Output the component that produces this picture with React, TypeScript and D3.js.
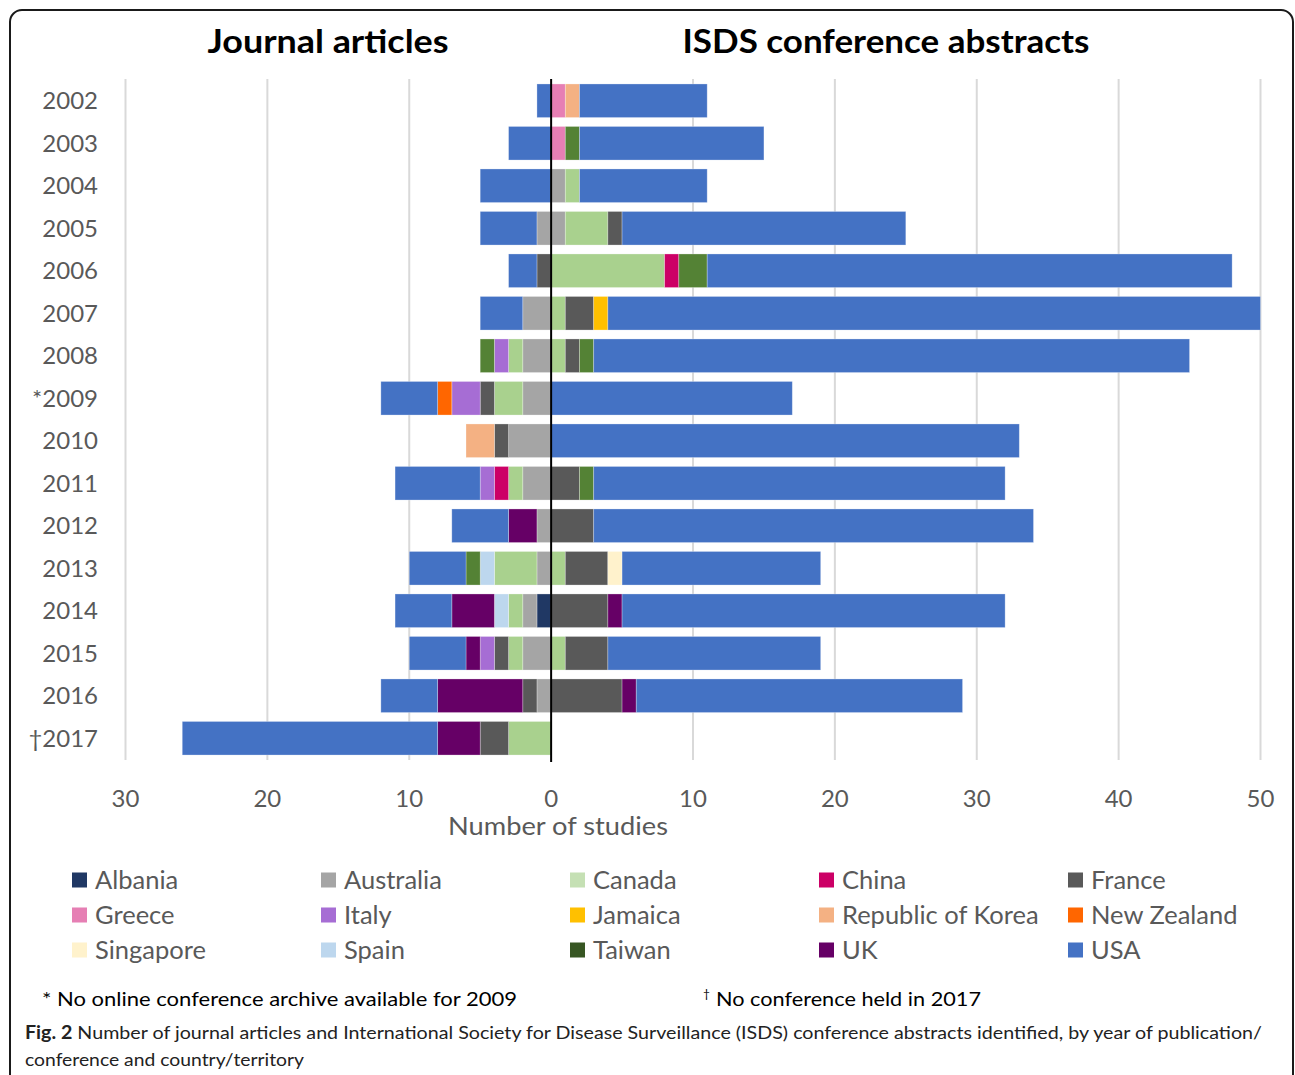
import React from 'react';
import * as d3 from 'd3';

const years = ['2002','2003','2004','2005','2006','2007','2008','2009','2010','2011','2012','2013','2014','2015','2016','2017'];
const yearLabels = ['2002','2003','2004','2005','2006','2007','2008','*2009','2010','2011','2012','2013','2014','2015','2016','\u20202017'];

const countries = ['Albania','Australia','Canada','China','France','Greece','Italy','Jamaica','Republic of Korea','New Zealand','Singapore','Spain','Taiwan','UK','USA'];

// Journal articles (drawn to the left), per country, 2002..2017
const jAlbania   = [0,0,0,0,0,0,0,0,0,0,0,0,1,0,0,0];
const jAustralia = [0,0,0,1,0,2,2,2,3,2,1,1,1,2,1,0];
const jCanada    = [0,0,0,0,0,0,1,2,0,1,0,3,1,1,0,3];
const jChina     = [0,0,0,0,0,0,0,0,0,1,0,0,0,0,0,0];
const jFrance    = [0,0,0,0,1,0,0,1,1,0,0,0,0,1,1,2];
const jGreece    = [0,0,0,0,0,0,0,0,0,0,0,0,0,0,0,0];
const jItaly     = [0,0,0,0,0,0,1,2,0,1,0,0,0,1,0,0];
const jJamaica   = [0,0,0,0,0,0,0,0,0,0,0,0,0,0,0,0];
const jKorea     = [0,0,0,0,0,0,0,0,2,0,0,0,0,0,0,0];
const jNZ        = [0,0,0,0,0,0,0,1,0,0,0,0,0,0,0,0];
const jSingapore = [0,0,0,0,0,0,0,0,0,0,0,0,0,0,0,0];
const jSpain     = [0,0,0,0,0,0,0,0,0,0,0,1,1,0,0,0];
const jTaiwan    = [0,0,0,0,0,0,1,0,0,0,0,1,0,0,0,0];
const jUK        = [0,0,0,0,0,0,0,0,0,0,2,0,3,1,6,3];
const jUSA       = [1,3,5,4,2,3,0,4,0,6,4,4,4,4,4,18];

// ISDS conference abstracts (drawn to the right)
const cAlbania   = [0,0,0,0,0,0,0,0,0,0,0,0,0,0,0,0];
const cAustralia = [0,0,1,1,0,0,0,0,0,0,0,0,0,0,0,0];
const cCanada    = [0,0,1,3,8,1,1,0,0,0,0,1,0,1,0,0];
const cChina     = [0,0,0,0,1,0,0,0,0,0,0,0,0,0,0,0];
const cFrance    = [0,0,0,1,0,2,1,0,0,2,3,3,4,3,5,0];
const cGreece    = [1,1,0,0,0,0,0,0,0,0,0,0,0,0,0,0];
const cItaly     = [0,0,0,0,0,0,0,0,0,0,0,0,0,0,0,0];
const cJamaica   = [0,0,0,0,0,1,0,0,0,0,0,0,0,0,0,0];
const cKorea     = [1,0,0,0,0,0,0,0,0,0,0,0,0,0,0,0];
const cNZ        = [0,0,0,0,0,0,0,0,0,0,0,0,0,0,0,0];
const cSingapore = [0,0,0,0,0,0,0,0,0,0,0,1,0,0,0,0];
const cSpain     = [0,0,0,0,0,0,0,0,0,0,0,0,0,0,0,0];
const cTaiwan    = [0,1,0,0,2,0,1,0,0,1,0,0,0,0,0,0];
const cUK        = [0,0,0,0,0,0,0,0,0,0,0,0,1,0,1,0];
const cUSA       = [9,13,9,20,37,46,42,17,33,29,31,14,27,15,23,0];

const xTicks = [-30,-20,-10,0,10,20,30,40,50];

const journal = [jAlbania,jAustralia,jCanada,jChina,jFrance,jGreece,jItaly,jJamaica,jKorea,jNZ,jSingapore,jSpain,jTaiwan,jUK,jUSA];
const conference = [cAlbania,cAustralia,cCanada,cChina,cFrance,cGreece,cItaly,cJamaica,cKorea,cNZ,cSingapore,cSpain,cTaiwan,cUK,cUSA];

const barColors = ['#203864','#A5A5A5','#A9D18E','#CC0066','#595959','#E67FB4','#A66DD4','#FFC000','#F4B183','#FF6600','#FFF2CC','#BDD7EE','#548235','#660066','#4472C4'];
const legendColors = ['#203864','#A5A5A5','#C5E0B4','#CC0066','#595959','#E67FB4','#A66DD4','#FFC000','#F4B183','#FF6600','#FFF2CC','#BDD7EE','#375623','#660066','#4472C4'];

const FONT = 'Lato, "Open Sans", sans-serif';

export default function App() {
  const W = 1295, H = 1075;
  const x = d3.scaleLinear().domain([-30, 50]).range([125.5, 1260.5]);
  const y = d3.scaleBand().domain(years).range([79.5, 759.5]).paddingInner(0.21).paddingOuter(0.105);

  const segs: { key: string; x0: number; x1: number; y: number; h: number; color: string }[] = [];
  years.forEach((yr, i) => {
    let accL = 0, accR = 0;
    countries.forEach((c, k) => {
      const jv = journal[k][i];
      if (jv > 0) {
        segs.push({ key: `j-${yr}-${c}`, x0: x(-(accL + jv)), x1: x(-accL), y: y(yr)!, h: y.bandwidth(), color: barColors[k] });
        accL += jv;
      }
      const cv = conference[k][i];
      if (cv > 0) {
        segs.push({ key: `c-${yr}-${c}`, x0: x(accR), x1: x(accR + cv), y: y(yr)!, h: y.bandwidth(), color: barColors[k] });
        accR += cv;
      }
    });
  });

  const [top, bottom] = [79, 760];
  const legendCols = [72, 321, 570, 819, 1068];
  const legendRows = [880, 915, 950];

  return (
    <svg width={W} height={H} style={{ position: 'absolute', left: 0, top: 0, background: '#fff' }} fontFamily={FONT}>
      <rect x={10} y={10} width={1283} height={1100} rx={12} ry={12} fill="#fff" stroke="#1a1a1a" strokeWidth={2} />

      <text x={328} y={53} textAnchor="middle" fontSize={33} fontWeight="bold" fill="#000" textLength={241} lengthAdjust="spacingAndGlyphs">Journal articles</text>
      <text x={886} y={53} textAnchor="middle" fontSize={33} fontWeight="bold" fill="#000" textLength={407} lengthAdjust="spacingAndGlyphs">ISDS conference abstracts</text>

      {xTicks.filter(t => t !== 0).map(t => (
        <line key={`g${t}`} x1={x(t)} x2={x(t)} y1={top} y2={bottom} stroke="#d9d9d9" strokeWidth={2} />
      ))}

      {segs.map(s => (
        <rect key={s.key} x={s.x0} y={s.y} width={s.x1 - s.x0} height={s.h} fill={s.color} stroke="#ffffff" strokeOpacity={0.35} strokeWidth={0.8} />
      ))}

      <line x1={x(0)} x2={x(0)} y1={top} y2={bottom + 2} stroke="#000" strokeWidth={2} />

      {years.map((yr, i) => (
        <text key={`yl${yr}`} x={98} y={y(yr)! + y.bandwidth() / 2} dy="0.36em" textAnchor="end" fontSize={24} fill="#595959">{yearLabels[i]}</text>
      ))}

      {xTicks.map(t => (
        <text key={`xt${t}`} x={x(t)} y={807} textAnchor="middle" fontSize={24} fill="#595959">{Math.abs(t)}</text>
      ))}
      <text x={558} y={835} textAnchor="middle" fontSize={25} fill="#595959" textLength={220} lengthAdjust="spacingAndGlyphs">Number of studies</text>

      {countries.map((c, k) => {
        const col = k % 5, row = Math.floor(k / 5);
        const lx = legendCols[col], ly = legendRows[row];
        return (
          <g key={`lg${c}`}>
            <rect x={lx} y={ly - 7.5} width={15} height={15} fill={legendColors[k]} />
            <text x={lx + 23} y={ly} dy="0.36em" fontSize={25.5} fill="#595959">{c}</text>
          </g>
        );
      })}

      <text x={42} y={1006} fontSize={19} fill="#000" textLength={475} lengthAdjust="spacingAndGlyphs">* No online conference archive available for 2009</text>
      <text x={703} y={998} fontSize={12} fill="#000">{'\u2020'}</text>
      <text x={716} y={1006} fontSize={19} fill="#000" textLength={265} lengthAdjust="spacingAndGlyphs">No conference held in 2017</text>

      <text x={25} y={1039} fontSize={18} fill="#222" textLength={1237} lengthAdjust="spacingAndGlyphs">
        <tspan fontWeight="bold">Fig. 2</tspan> Number of journal articles and International Society for Disease Surveillance (ISDS) conference abstracts identified, by year of publication/
      </text>
      <text x={25} y={1066} fontSize={18} fill="#222" textLength={279} lengthAdjust="spacingAndGlyphs">conference and country/territory</text>
    </svg>
  );
}
